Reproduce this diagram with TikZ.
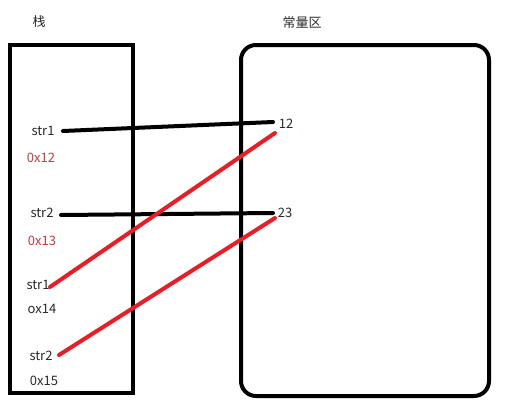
\documentclass[tikz,border=0pt]{standalone}
\usepackage{fontspec}
\setmainfont{Noto Sans CJK SC}
\definecolor{paintred}{RGB}{237,28,36}
\definecolor{addrred}{RGB}{205,55,55}
\definecolor{txt}{RGB}{40,40,40}
\begin{document}
\begin{tikzpicture}[x=1pt,y=-1pt,
  lbl/.style={inner sep=0pt,font=\fontsize{13}{15}\selectfont,text=txt},
  addr/.style={lbl,text=addrred},
  frame/.style={draw=black,line width=4pt},
  blk/.style={draw=black,line width=4pt,line cap=round},
  rd/.style={draw=paintred,line width=4pt,line cap=round}]
\useasboundingbox (0,0) rectangle (509,402);
% containers
\draw[frame] (10,45) rectangle (133,393);
\draw[frame,rounded corners=15pt] (241,45) rectangle (489,396);
% titles
\node[lbl] (stack) at (39,22) {栈};
\node[lbl] (const) at (302,23) {常量区};
% stack entries
\node[lbl] (s1a) at (43,131) {str1};
\node[addr] (a12) at (41,158) {0x12};
\node[lbl] (s2a) at (42,213) {str2};
\node[addr] (a13) at (42,241) {0x13};
\node[lbl] (s1b) at (38,285) {str1};
\node[lbl] (a14) at (42,309) {ox14};
\node[lbl] (s2b) at (41,356) {str2};
\node[lbl] (a15) at (44,381) {0x15};
% constants
\node[lbl] (v12) at (286,124) {12};
\node[lbl] (v23) at (285,213) {23};
% line end points
\coordinate (b1s) at (63,131);
\coordinate (b1e) at (273,122);
\coordinate (b2s) at (61,215);
\coordinate (b2e) at (273,213);
\coordinate (r1s) at (50,287);
\coordinate (r1e) at (275,133);
\coordinate (r2s) at (59,355);
\coordinate (r2e) at (275,218);
% connectors
\draw[blk] (b1s) -- (b1e);
\draw[blk] (b2s) -- (b2e);
\draw[rd] (r1s) -- (r1e);
\draw[rd] (r2s) -- (r2e);
\end{tikzpicture}
\end{document}
